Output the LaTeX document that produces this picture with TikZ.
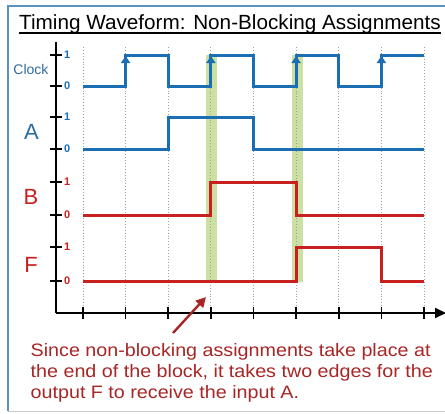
\documentclass[tikz,border=0pt]{standalone}
\usepackage{fontspec}
\setmainfont{Liberation Sans}
\usetikzlibrary{arrows.meta}
\definecolor{wblue}{HTML}{1C6EB4}
\definecolor{wred}{HTML}{C8201E}
\definecolor{cred}{HTML}{A82626}
\definecolor{lblue}{HTML}{2B6E9E}
\definecolor{framec}{HTML}{5A93BE}
\definecolor{bandc}{HTML}{CCE0A4}
\newcommand{\capwide}[1]{\scalebox{1.095}[1]{#1}}
\tikzset{
  wave/.style={line width=3pt, line join=miter},
  bluewave/.style={wave, wblue},
  redwave/.style={wave, wred},
  grid/.style={gray!75, dotted, line width=0.9pt},
  axis/.style={black, line width=2pt},
  tickmark/.style={black, line width=1.6pt},
  ticklbl/.style={font=\fontsize{11}{11}\selectfont\bfseries, inner sep=0pt, anchor=west},
  siglbl/.style={font=\fontsize{22}{22}\selectfont, inner sep=0pt},
  band/.style={fill=bandc},
  capline/.style={font=\fontsize{18}{20}\selectfont, text=cred, inner sep=0pt, anchor=base west},
}
\begin{document}
\begin{tikzpicture}[x=1pt,y=-1pt]
\useasboundingbox (0,0) rectangle (445,413);
\fill[white] (0,0) rectangle (445,413);
% frame
\draw[framec, line width=1.3pt] (8,411) -- (8,6) -- (452,6);
\draw[gray!40, line width=0.8pt] (8,411.5) -- (452,411.5);
% title
\node[font=\fontsize{20.5}{20}\selectfont, inner sep=0pt, anchor=base west] (title) at (19,29) {\scalebox{1.01}[1]{Timing Waveform: Non-Blocking Assignments}};
\draw[black, line width=1.5pt] ([yshift=-4pt]title.base west) -- ([yshift=-4pt]title.base east);
% green bands
\fill[band] (206,55) rectangle (217,282);
\fill[band] (292,55) rectangle (303,282);
% grid
\foreach \x in {83,125.6,168.25,210.9,253.5,296.1,338.75,381.4,424}
  \draw[grid] (\x,47) -- (\x,313);
% axes
\coordinate (origin) at (56,313);
\coordinate (ytop) at (56,42);
\coordinate (xend) at (446,313);
\draw[axis] (ytop) -- (origin);
\draw[axis, -{Triangle[length=11pt,width=10pt]}] (origin) -- (xend);
\foreach \x in {83,125.6,168.25,210.9,253.5,296.1,338.75,381.4,424}
  \draw[tickmark] (\x,307) -- (\x,319);
\foreach \y in {55,86,117,149,182,215,247,281}
  \draw[tickmark] (50,\y) -- (62,\y);
% tick labels
\node[ticklbl, text=wblue] (c1) at (64,55) {1};
\node[ticklbl, text=wblue] (c0) at (64,86) {0};
\node[ticklbl, text=wblue] (a1) at (64,117) {1};
\node[ticklbl, text=wblue] (a0) at (64,149) {0};
\node[ticklbl, text=wred] (b1) at (64,182) {1};
\node[ticklbl, text=wred] (b0) at (64,215) {0};
\node[ticklbl, text=wred] (f1) at (64,247) {1};
\node[ticklbl, text=wred] (f0) at (64,281) {0};
% signal labels
\node[font=\fontsize{14}{14}\selectfont, text=lblue, inner sep=0pt] (clk) at (31,69) {Clock};
\node[siglbl, text=lblue] (A) at (31.5,132) {A};
\node[siglbl, text=wred] (B) at (31,197) {B};
\node[siglbl, text=wred] (F) at (31,264.5) {F};
% clock
\draw[bluewave] (83,86) -- (125.6,86) -- (125.6,55) -- (168.25,55) -- (168.25,86) -- (210.9,86) -- (210.9,55) -- (253.5,55) -- (253.5,86) -- (296.1,86) -- (296.1,55) -- (338.75,55) -- (338.75,86) -- (381.4,86) -- (381.4,55) -- (424,55);
\foreach \x in {125.6,210.9,296.1,381.4}
  \draw[wblue, line width=3pt, -{Triangle[length=7pt,width=9pt]}] (\x,75) -- (\x,56);
% A
\draw[bluewave] (83,149) -- (168.25,149) -- (168.25,117) -- (253.5,117) -- (253.5,149) -- (424,149);
% B
\draw[redwave] (83,215) -- (210.9,215) -- (210.9,182) -- (296.1,182) -- (296.1,215) -- (424,215);
% F
\draw[redwave] (83,281) -- (296.1,281) -- (296.1,247) -- (381.4,247) -- (381.4,281) -- (424,281);
% caption
\node[capline] (cap1) at (30.5,356) {\capwide{Since non-blocking assignments take place at}};
\node[capline] (cap2) at (30.5,377) {\capwide{the end of the block, it takes two edges for the}};
\node[capline] (cap3) at (30.5,398) {\capwide{output F to receive the input A.}};
\coordinate (ptail) at (173,333);
\coordinate (ptip) at (206,297);
\draw[cred, line width=2.4pt, -{Triangle[length=10pt,width=10pt]}] (ptail) -- (ptip);
\end{tikzpicture}
\end{document}
